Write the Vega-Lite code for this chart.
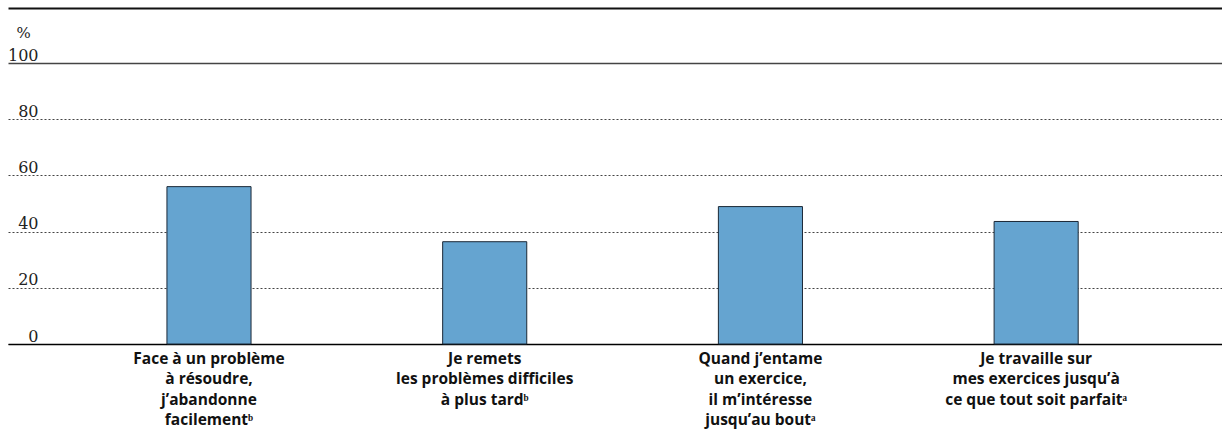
{
  "$schema": "https://vega.github.io/schema/vega-lite/v6.json",
  "width": 1214,
  "height": 281,
  "autosize": {"type": "none"},
  "padding": {"left": 8, "top": 63, "right": 0, "bottom": 93},
  "background": "white",
  "config": {"view": {"stroke": null}},
  "data": {
    "values": [
      {"item": "Face à un problème|à résoudre,|j’abandonne|facilementᵇ", "pct": 56.0},
      {"item": "Je remets|les problèmes difficiles|à plus tardᵇ", "pct": 36.4},
      {"item": "Quand j’entame|un exercice,|il m’intéresse|jusqu’au boutᵃ", "pct": 48.9},
      {"item": "Je travaille sur|mes exercices jusqu’à|ce que tout soit parfaitᵃ", "pct": 43.6}
    ]
  },
  "layer": [
    {
      "mark": {"type": "bar", "fill": "#65a4d0", "stroke": "#1b2836", "strokeWidth": 1},
      "encoding": {
        "x": {
          "field": "item", "type": "nominal", "sort": null,
          "scale": {"paddingInner": 0.695, "paddingOuter": 0.549, "align": 0.525},
          "axis": {
            "title": null, "labelAngle": 0, "ticks": false,
            "domain": true, "domainColor": "#000000", "domainWidth": 1.5,
            "labelExpr": "split(datum.label, '|')",
            "labelFont": "Open Sans", "labelFontWeight": "bold", "labelFontSize": 15.5,
            "labelColor": "#111111", "labelLineHeight": 20.5, "labelPadding": 7,
            "labelLimit": 400
          }
        },
        "y": {
          "field": "pct", "type": "quantitative",
          "scale": {"domain": [0, 100], "nice": false},
          "axis": {
            "values": [0, 20, 40, 60, 80, 100],
            "title": "%", "titleAngle": 0, "titleAlign": "center", "titleBaseline": "alphabetic",
            "titleX": 15, "titleY": -26, "titleFont": "DejaVu Serif", "titleFontSize": 15,
            "titleFontWeight": "normal", "titleColor": "#222222",
            "domain": false, "ticks": false,
            "labelAlign": "right", "labelBaseline": "alphabetic", "labelOffset": -3,
            "labelPadding": -30, "labelFont": "DejaVu Serif", "labelFontSize": 16,
            "labelColor": "#222222",
            "grid": true, "gridColor": "#444444",
            "gridDash": {"condition": {"test": "datum.value == 100", "value": []}, "value": [2, 2]},
            "gridWidth": {"condition": {"test": "datum.value == 100", "value": 1.5}, "value": 1}
          }
        }
      }
    },
    {
      "mark": {"type": "bar", "opacity": 0},
      "encoding": {
        "x": {
          "field": "item", "type": "nominal", "sort": null,
          "axis": {
            "orient": "top", "offset": 55, "title": null, "labels": false, "ticks": false,
            "domain": true, "domainColor": "#111111", "domainWidth": 2, "grid": false
          }
        },
        "y": {"field": "pct", "type": "quantitative"}
      }
    }
  ],
  "resolve": {"axis": {"x": "independent"}}
}
